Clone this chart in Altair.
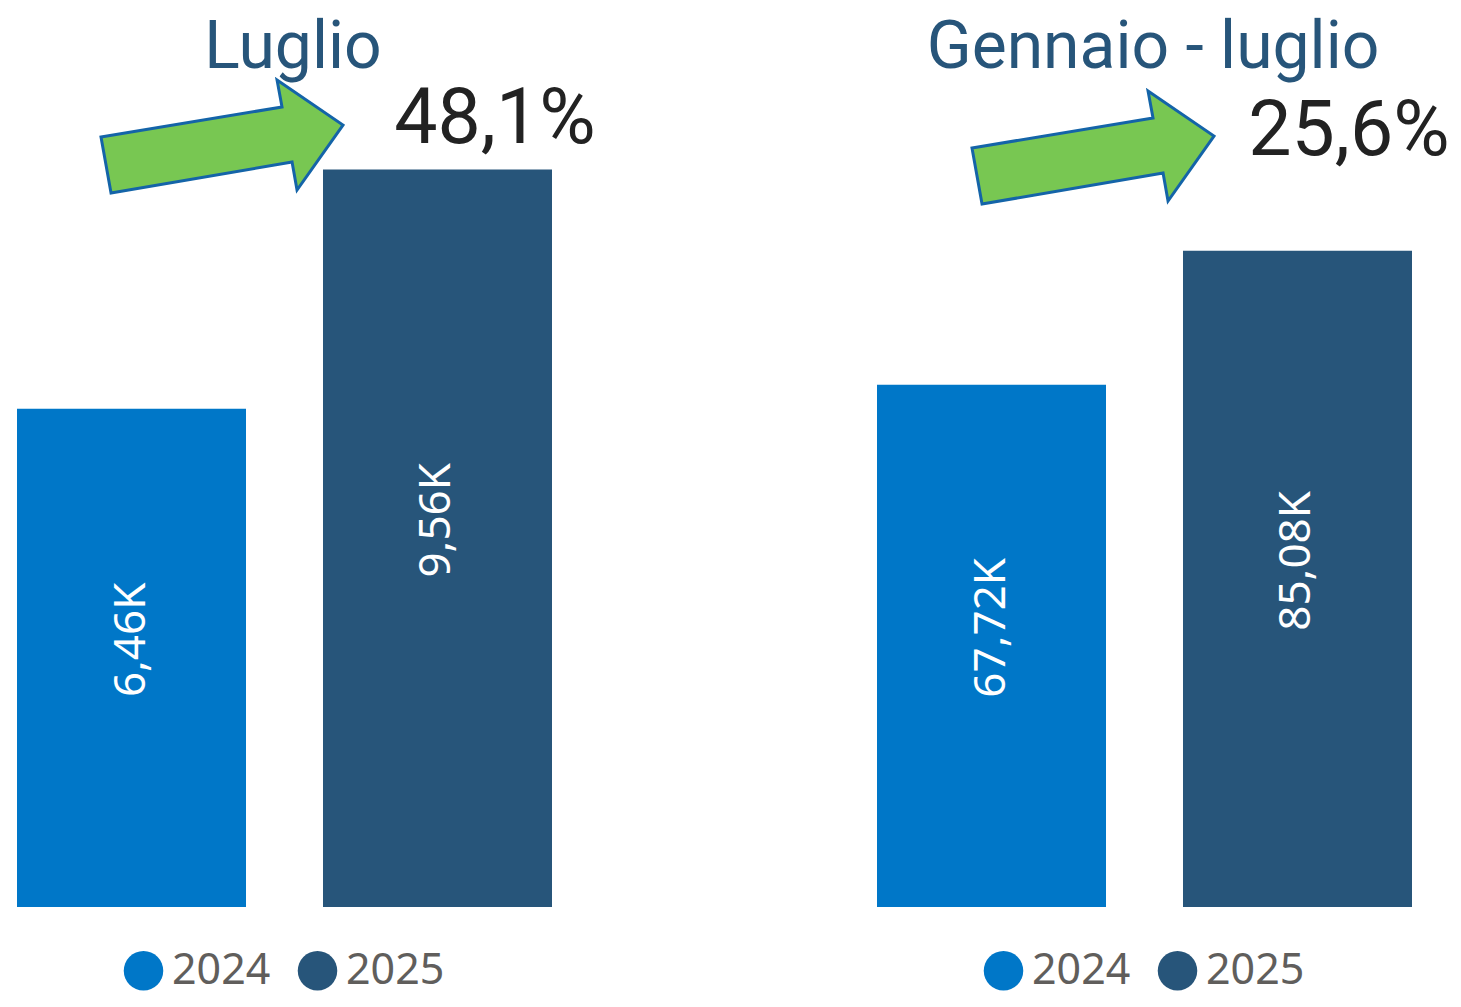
import altair as alt
import pandas as pd

# ---- data ----
years = ["2024", "2025"]
titles = ["Luglio", "Gennaio - luglio"]
pct_changes = ["48,1%", "25,6%"]
values_luglio = [6460, 9560]
values_gen_lug = [67720, 85080]
labels_luglio = ["6,46K", "9,56K"]
labels_gen_lug = ["67,72K", "85,08K"]

COLORS = ["#0077C8", "#27557A"]
TITLE_COLOR = "#27557A"
ARROW_PATH = ("M -1 0 L 0.496 -0.248 L 0.455 -0.471 L 1 -0.099 "
              "L 0.620 0.438 L 0.579 0.207 L -0.917 0.463 Z")


def panel(values, labels, title, pct, ymax, pct_x, pct_y, arrow_x, arrow_y):
    df = pd.DataFrame({"year": years, "value": values, "label": labels})
    x = alt.X("year:N", axis=None,
              scale=alt.Scale(paddingInner=0.2516, paddingOuter=0))
    y = alt.Y("value:Q", axis=None, scale=alt.Scale(domain=[0, ymax], nice=False, zero=True))
    color = alt.Color(
        "year:N",
        scale=alt.Scale(domain=years, range=COLORS),
        legend=alt.Legend(
            orient="none", legendX=105, legendY=941, direction="horizontal",
            title=None, symbolType="circle", symbolSize=1560, symbolStrokeWidth=0,
            symbolOpacity=1, labelFontSize=43, labelFont="Noto Sans",
            labelColor="#605E5C", labelOffset=7, columnPadding=25, padding=0,
            labelLimit=400,
        ),
    )
    bars = alt.Chart(df).mark_bar(size=229).encode(x=x, y=y, color=color)
    text = alt.Chart(df).transform_calculate(mid="datum.value / 2").mark_text(
        angle=270, align="center", baseline="middle", color="white",
        fontSize=44, font="Noto Sans", dx=18,
    ).encode(x=x, y=alt.Y("mid:Q", scale=alt.Scale(domain=[0, ymax], nice=False)), text="label:N")

    meta = pd.DataFrame({"title": [title], "pct": [pct]})
    ttl = alt.Chart(meta).mark_text(
        fontSize=66, font="Roboto", color=TITLE_COLOR, align="center", baseline="alphabetic",
    ).encode(x=alt.value(276), y=alt.value(60), text="title:N")
    pct_t = alt.Chart(meta).mark_text(
        fontSize=77, font="Roboto", color="#222222", align="center", baseline="alphabetic",
    ).encode(x=alt.value(pct_x), y=alt.value(pct_y), text="pct:N")
    arrow = alt.Chart(meta).mark_point(
        shape=ARROW_PATH, size=58564, filled=True, fill="#78C752", stroke="#1464A8",
        strokeWidth=3, opacity=1, fillOpacity=1, strokeOpacity=1,
    ).encode(x=alt.value(arrow_x), y=alt.value(arrow_y))

    return alt.layer(bars, text, arrow, ttl, pct_t).properties(width=535, height=899)


left = panel(values_luglio, labels_luglio, titles[0], pct_changes[0], 11655,
             478, 135, 205, 129)
right = panel(values_gen_lug, labels_gen_lug, titles[1], pct_changes[1], 116550,
              472, 147, 216, 140)

chart = (
    alt.hconcat(left, right, spacing=325, bounds="flush")
    .resolve_scale(color="independent", y="independent")
    .resolve_legend(color="independent")
    .properties(padding={"left": 9, "top": 0, "right": 0, "bottom": 6})
    .configure_view(strokeWidth=0)
)

chart.save("out.html", embed_options={"renderer": "svg", "actions": False})
